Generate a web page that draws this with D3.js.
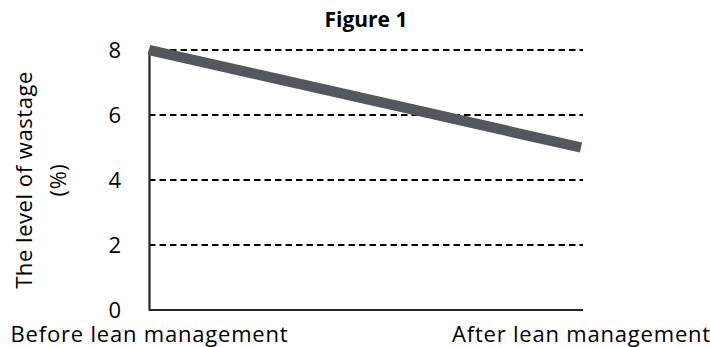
<!DOCTYPE html>
<html>
<head>
<meta charset="utf-8">
<script src="https://cdn.jsdelivr.net/npm/d3@7"></script>
<style>
  html, body { margin: 0; padding: 0; background: #fff; }
  svg { display: block; }
  text { font-family: "Open Sans", "Noto Sans", sans-serif; fill: #000; }
</style>
</head>
<body>
<svg id="chart" width="710" height="347"></svg>
<script>
// Wastage level before and after lean management
const categories = ["Before lean management", "After lean management"];
const wastage = [8, 5];
const yTicks = [0, 2, 4, 6, 8];
const titleText = "Figure 1";
const yTitleLines = ["The level of wastage", "(%)"];

const W = 710, H = 347;
const margin = { left: 149, right: 129, top: 50, bottom: 37 };
const svg = d3.select("#chart");

const x = d3.scalePoint()
  .domain(categories)
  .range([margin.left, W - margin.right]);

const y = d3.scaleLinear()
  .domain([0, 8])
  .range([H - margin.bottom, margin.top]);

// dashed horizontal gridlines
svg.append("g")
  .selectAll("line")
  .data(yTicks.filter(d => d > 0))
  .join("line")
  .attr("x1", margin.left)
  .attr("x2", W - margin.right + 2)
  .attr("y1", d => y(d))
  .attr("y2", d => y(d))
  .attr("stroke", "#000")
  .attr("stroke-width", 2)
  .attr("stroke-dasharray", "6.5,4");

// y axis
const yAxis = svg.append("g")
  .attr("transform", `translate(${margin.left},0)`)
  .call(d3.axisLeft(y).tickValues(yTicks).tickSize(0).tickPadding(28));
yAxis.select(".domain").attr("stroke", "#262626").attr("stroke-width", 2.2);
yAxis.selectAll("text").style("font-size", "22px").attr("fill", "#000");

// x axis
const xAxis = svg.append("g")
  .attr("transform", `translate(0,${y(0)})`)
  .call(d3.axisBottom(x).tickSize(0).tickPadding(16));
xAxis.select(".domain")
  .attr("d", `M${margin.left},0H${W - margin.right + 2}`)
  .attr("stroke", "#262626").attr("stroke-width", 2.2);
xAxis.selectAll("text")
  .style("font-size", "22px")
  .style("letter-spacing", "0.8px")
  .attr("fill", "#000");

// the series line
const line = d3.line()
  .x((d, i) => x(categories[i]))
  .y(d => y(d));
svg.append("path")
  .datum(wastage)
  .attr("d", line)
  .attr("fill", "none")
  .attr("stroke", "#53575e")
  .attr("stroke-width", 10.5)
  .attr("stroke-linecap", "butt");

// title
svg.append("text")
  .attr("x", 366)
  .attr("y", 27)
  .attr("text-anchor", "middle")
  .style("font-size", "21px")
  .style("font-weight", "bold")
  .text(titleText);

// y-axis title, two lines
const yTitle = svg.append("text")
  .attr("transform", `translate(32,180) rotate(-90)`)
  .attr("text-anchor", "middle")
  .style("font-size", "22px")
  .style("letter-spacing", "0.55px");
yTitle.selectAll("tspan")
  .data(yTitleLines)
  .join("tspan")
  .attr("x", 0)
  .attr("dy", (d, i) => i === 0 ? 0 : 34)
  .text(d => d);
</script>
</body>
</html>
